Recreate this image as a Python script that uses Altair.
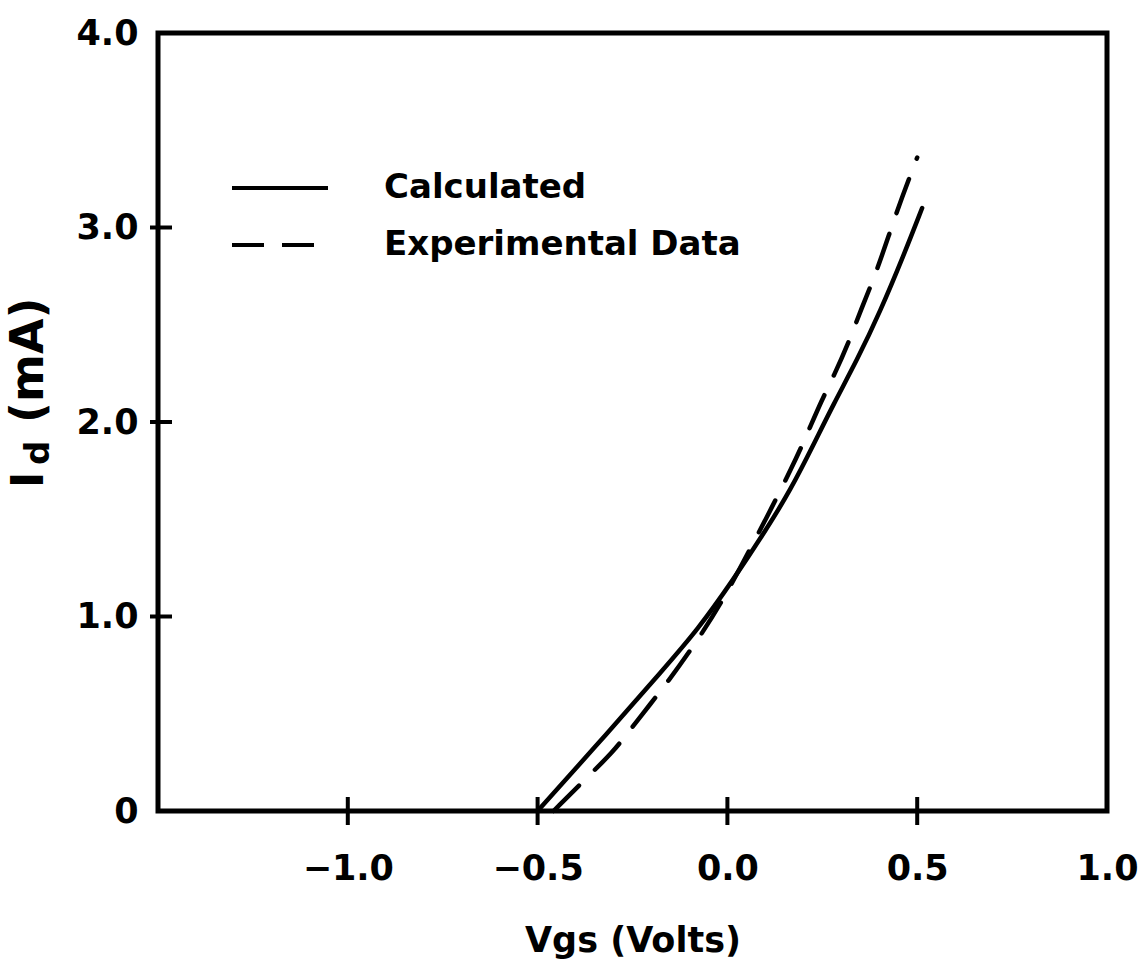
import altair as alt
import pandas as pd

# ---- data ----
calc_vgs = [-0.50, -0.316, -0.168, -0.079, 0.016, 0.105, 0.166, 0.226, 0.279, 0.342, 0.403, 0.463, 0.513]
calc_id = [0.0, 0.40, 0.73, 0.93, 1.19, 1.455, 1.65, 1.88, 2.09, 2.32, 2.57, 2.85, 3.10]

exp_vgs = [-0.458, -0.366, -0.303, -0.263, -0.203, -0.155, -0.103, -0.02, 0.074, 0.113, 0.171, 0.205,
           0.25, 0.279, 0.324, 0.35, 0.395, 0.447, 0.50]
exp_id = [0.0, 0.18, 0.30, 0.40, 0.55, 0.67, 0.81, 1.05, 1.40, 1.545, 1.77, 1.915,
          2.12, 2.23, 2.43, 2.57, 2.78, 3.09, 3.36]

x_tick_values = [-1.0, -0.5, 0.0, 0.5]
x_label_values = [-1.0, -0.5, 0.0, 0.5, 1.0]
y_tick_values = [1.0, 2.0, 3.0]
y_label_values = [0.0, 1.0, 2.0, 3.0, 4.0]

legend_labels = ["Calculated", "Experimental Data"]

FONT = "DejaVu Sans"
W, H = 949, 778

calc_df = pd.DataFrame({"Vgs": calc_vgs, "Id": calc_id})
exp_df = pd.DataFrame({"Vgs": exp_vgs, "Id": exp_id})

xscale = alt.Scale(domain=[-1.5, 1.0], nice=False, zero=False)
yscale = alt.Scale(domain=[0.0, 4.0], nice=False, zero=False)

xaxis = alt.Axis(values=x_label_values, format=".1f", domain=False, ticks=False, grid=False,
                 labelPadding=40, labelFont=FONT, labelFontSize=35, labelFontWeight="bold",
                 labelColor="black", labelFlush=False, labelOverlap=False,
                 title="Vgs (Volts)", titleFont=FONT, titleFontSize=35, titleFontWeight="bold",
                 titleColor="black", titleY=140, titleBaseline="alphabetic")
yaxis = alt.Axis(values=y_label_values,
                 labelExpr="datum.value == 0 ? '0' : format(datum.value, '.1f')",
                 domain=False, ticks=False, grid=False, labelPadding=20,
                 labelFont=FONT, labelFontSize=35, labelFontWeight="bold", labelColor="black",
                 labelFlush=False, labelOverlap=False, title=None)

calc_line = alt.Chart(calc_df).mark_line(color="black", strokeWidth=4.5, interpolate="basis",
                                          strokeCap="round").encode(
    x=alt.X("Vgs:Q", scale=xscale, axis=xaxis),
    y=alt.Y("Id:Q", scale=yscale, axis=yaxis),
)
exp_line = alt.Chart(exp_df).mark_line(color="black", strokeWidth=4.5, interpolate="basis",
                                        strokeDash=[36, 22], strokeCap="round").encode(
    x=alt.X("Vgs:Q", scale=xscale),
    y=alt.Y("Id:Q", scale=yscale),
)

xticks = alt.Chart(pd.DataFrame({"v": x_tick_values})).mark_rule(color="black", strokeWidth=4).encode(
    x=alt.X("v:Q", scale=xscale), y=alt.value(H - 14), y2=alt.value(H + 14))
yticks = alt.Chart(pd.DataFrame({"v": y_tick_values})).mark_rule(color="black", strokeWidth=4).encode(
    y=alt.Y("v:Q", scale=yscale), x=alt.value(-8), x2=alt.value(14))

# legend
leg_solid = alt.Chart(pd.DataFrame({"a": [0]})).mark_rule(color="black", strokeWidth=4).encode(
    x=alt.value(74), x2=alt.value(170), y=alt.value(155))
leg_dash = alt.Chart(pd.DataFrame({"a": [0]})).mark_rule(color="black", strokeWidth=4,
                                                       strokeDash=[32, 18]).encode(
    x=alt.value(74), x2=alt.value(170), y=alt.value(212))
leg_text = alt.Chart(pd.DataFrame({"t": legend_labels, "yy": [155, 212]})).mark_text(
    font=FONT, fontSize=34, fontWeight="bold", color="black", align="left", baseline="middle").encode(
    text="t:N", x=alt.value(226), y=alt.Y("yy:Q", scale=None))

# y title with subscript
yt_I = alt.Chart(pd.DataFrame({"t": ["I"]})).mark_text(
    font=FONT, fontSize=44, fontWeight="bold", color="black", align="left", baseline="alphabetic",
    angle=270).encode(text="t:N", x=alt.value(-115), y=alt.value(455))
yt_d = alt.Chart(pd.DataFrame({"t": ["d"]})).mark_text(
    font=FONT, fontSize=34, fontWeight="bold", color="black", align="left", baseline="alphabetic",
    angle=270).encode(text="t:N", x=alt.value(-109), y=alt.value(432))
yt_mA = alt.Chart(pd.DataFrame({"t": ["(mA)"]})).mark_text(
    font=FONT, fontSize=46, fontWeight="bold", color="black", align="left", baseline="alphabetic",
    angle=270).encode(text="t:N", x=alt.value(-115), y=alt.value(390))

chart = alt.layer(calc_line, exp_line, xticks, yticks, leg_solid, leg_dash, leg_text,
                  yt_I, yt_d, yt_mA).properties(
    width=W, height=H,
    autosize=alt.AutoSizeParams(type="none"),
    padding={"left": 158, "top": 33, "right": 32, "bottom": 150},
    background="white",
).configure_view(stroke="black", strokeWidth=5)

chart.save("out.html", embed_options={"renderer": "svg", "actions": False})
